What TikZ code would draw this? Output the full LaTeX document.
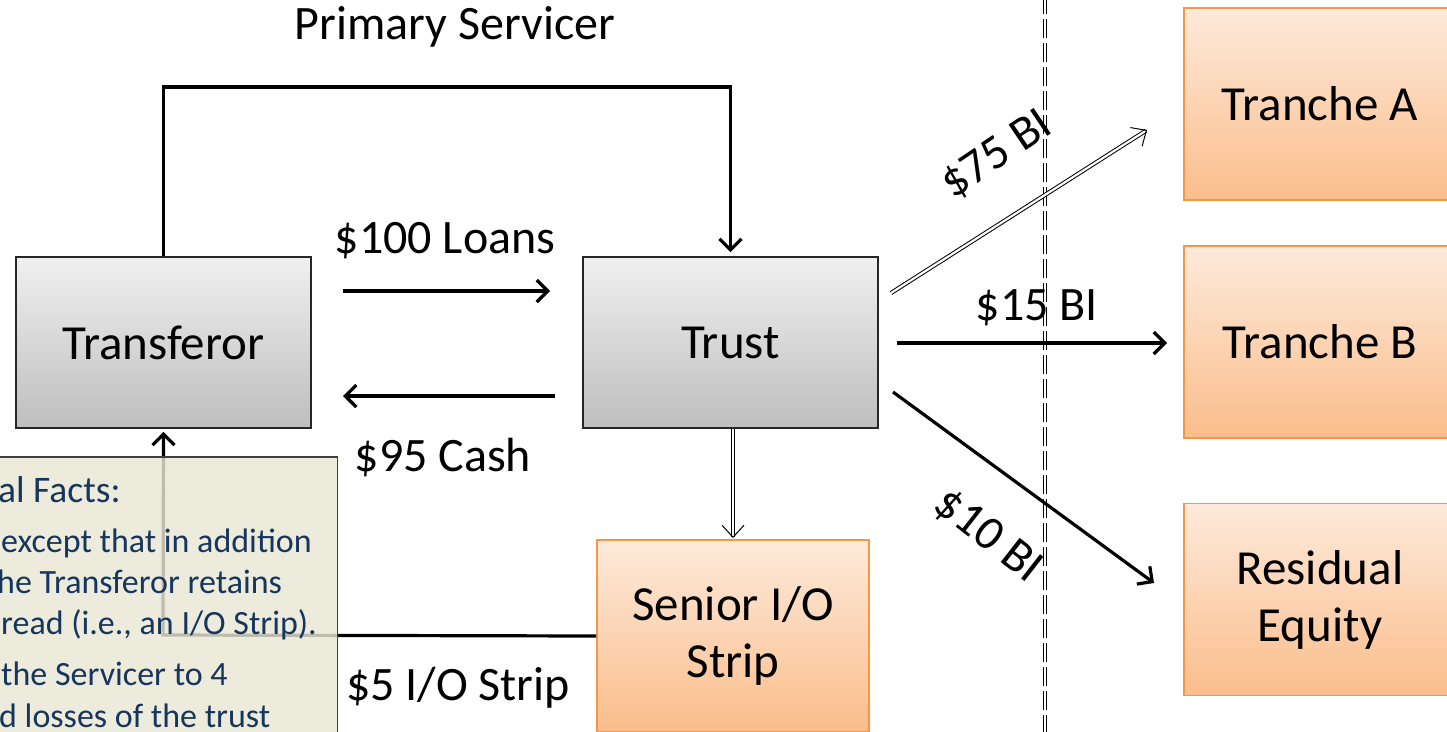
\documentclass[tikz,border=0pt]{standalone}
\usepackage{fontspec}
\setmainfont{Carlito}
\usetikzlibrary{arrows.meta,calc}
\definecolor{orA}{HTML}{FDEADB}
\definecolor{orB}{HTML}{FBBD8B}
\definecolor{orline}{HTML}{F79646}
\definecolor{grA}{HTML}{F0F0F0}
\definecolor{grB}{HTML}{BEBEBE}
\definecolor{notefill}{HTML}{E8E6D4}
\definecolor{notetext}{HTML}{17365D}
\tikzset{
  graybox/.style={draw=black!85, line width=1.8pt, top color=grA, bottom color=grB,
    minimum width=295pt, minimum height=171pt, inner sep=0pt, font=\fontsize{49}{58}\selectfont},
  orbox/.style={draw=orline, line width=1.8pt, top color=orA, bottom color=orB,
    minimum width=272pt, minimum height=192pt, inner sep=0pt, align=center,
    font=\fontsize{49}{57}\selectfont},
  lbl/.style={inner sep=0pt, font=\fontsize{48}{56}\selectfont},
  flow/.style={line width=3.2pt, -{Straight Barb[length=11pt,width=22pt,line width=3.2pt]}},
  dflow/.style={line width=1pt, double=white, double distance=2.2pt,
    -{Straight Barb[length=12pt,width=22pt]}},
  notebody/.style={anchor=base west, inner sep=0pt, text=notetext, font=\fontsize{34}{40}\selectfont},
}
\begin{document}
\begin{tikzpicture}[x=1pt,y=-1pt]
\useasboundingbox (0,0) rectangle (1447,731);
% boxes
\node[graybox] (transferor) at (163.5,342.5) {Transferor};
\node[graybox] (trust) at (730.5,342.5) {Trust};
\node[orbox] (trA) at (1320,104) {Tranche A};
\node[orbox] (trB) at (1320,342) {Tranche B};
\node[orbox] (res) at (1320,599.5) {Residual\\Equity};
\node[orbox] (sio) at (733,636) {Senior I/O\\Strip};
% dashed divider
\coordinate (dtop) at (1045,-5);
\coordinate (dbot) at (1045,740);
\draw[line width=1pt, double=white, double distance=2pt, dash pattern=on 19pt off 5pt] (dtop) -- (dbot);
% primary servicer
\coordinate (ps1) at (transferor.north |- 0,87);
\coordinate (ps2) at (trust.north |- 0,87);
\draw[flow] (transferor.north) -- (ps1) -- (ps2) -- ($(trust.north)+(0,-4)$);
\node[lbl] (pslbl) at (455,27) {Primary Servicer};
% loans / cash
\coordinate (loanS) at (343,291);
\coordinate (loanE) at (550,291);
\draw[flow] (loanS) -- (loanE);
\node[lbl] (loanlbl) at (445,241) {\$100 Loans};
\coordinate (cashS) at (555,396);
\coordinate (cashE) at (343,396);
\draw[flow] (cashS) -- (cashE);
\node[lbl] (cashlbl) at (443,457) {\$95 Cash};
% to tranches
\coordinate (aS) at (891,293);
\coordinate (aE) at (1147,130);
\draw[dflow] (aS) -- (aE);
\node[lbl, rotate=34] (albl) at (997,155) {\$75 BI};
\coordinate (bS) at (897,343);
\coordinate (bE) at (1167,343);
\draw[flow] (bS) -- (bE);
\node[lbl] (blbl) at (1037,308) {\$15 BI};
\coordinate (cS) at (893,392);
\coordinate (cE) at (1154,583);
\draw[flow] (cS) -- (cE);
\node[lbl, rotate=-38] (clbl) at (988,536) {\$10 BI};
% to senior I/O
\coordinate (sS) at (733,429);
\coordinate (sE) at (733,538);
\draw[dflow] (sS) -- (sE);
% I/O strip back to transferor
\coordinate (io1) at (163,635);
\draw[flow] (sio.west) -- (io1) -- ($(transferor.south)+(0,3)$);
\node[lbl] (iolbl) at (458,688) {\$5 I/O Strip};
% note box
\node[draw=black!75, line width=1.5pt, fill=notefill, fill opacity=0.82, minimum width=350pt, minimum height=300pt, anchor=north east, inner sep=0pt] (note) at (338,456) {};
\node[notebody, font=\fontsize{37.5}{40}\selectfont] (n1) at (-2,502) {al Facts:};
\node[notebody] (n2) at (1,552) {except that in addition};
\node[notebody] (n3) at (-3,593) {he Transferor retains};
\node[notebody] (n4) at (1,634) {read (i.e., an I/O Strip).};
\node[notebody] (n5) at (1,685) {the Servicer to 4};
\node[notebody] (n6) at (-1,727) {d losses of the trust};
\end{tikzpicture}
\end{document}
